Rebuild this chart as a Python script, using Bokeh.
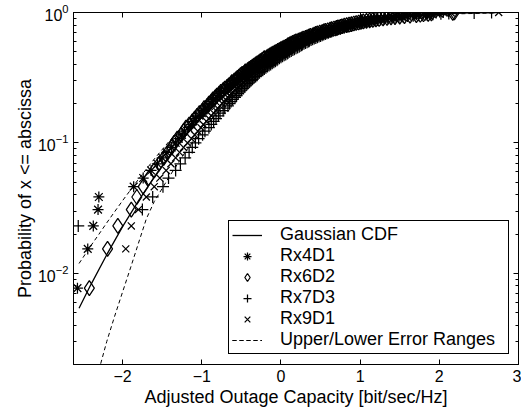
from bokeh.plotting import figure
from bokeh.models import (LogAxis, LinearAxis, Legend, LegendItem, FixedTicker,
                          Range1d, LogTicker)
from bokeh.embed import file_html
from bokeh.resources import INLINE

# ---- data ----
# empirical CDF levels (k/130) shared by the four receiver series
cdf_levels = [0.0077, 0.0154, 0.0231, 0.0308, 0.0385, 0.0462, 0.0538, 0.0615, 0.0692, 0.0769,
              0.0846, 0.0923, 0.1000, 0.1077, 0.1154, 0.1231, 0.1308, 0.1385, 0.1462, 0.1538,
              0.1615, 0.1692, 0.1769, 0.1846, 0.1923, 0.2000, 0.2077, 0.2154, 0.2231, 0.2308,
              0.2385, 0.2462, 0.2538, 0.2615, 0.2692, 0.2769, 0.2846, 0.2923, 0.3000, 0.3077,
              0.3154, 0.3231, 0.3308, 0.3385, 0.3462, 0.3538, 0.3615, 0.3692, 0.3769, 0.3846,
              0.3923, 0.4000, 0.4077, 0.4154, 0.4231, 0.4308, 0.4385, 0.4462, 0.4538, 0.4615,
              0.4692, 0.4769, 0.4846, 0.4923, 0.5000, 0.5077, 0.5154, 0.5231, 0.5308, 0.5385,
              0.5462, 0.5538, 0.5615, 0.5692, 0.5769, 0.5846, 0.5923, 0.6000, 0.6077, 0.6154,
              0.6231, 0.6308, 0.6385, 0.6462, 0.6538, 0.6615, 0.6692, 0.6769, 0.6846, 0.6923,
              0.7000, 0.7077, 0.7154, 0.7231, 0.7308, 0.7385, 0.7462, 0.7538, 0.7615, 0.7692,
              0.7769, 0.7846, 0.7923, 0.8000, 0.8077, 0.8154, 0.8231, 0.8308, 0.8385, 0.8462,
              0.8538, 0.8615, 0.8692, 0.8769, 0.8846, 0.8923, 0.9000, 0.9077, 0.9154, 0.9231,
              0.9308, 0.9385, 0.9462, 0.9538, 0.9615, 0.9692, 0.9769, 0.9846, 0.9923, 1.0000]

rx4d1_x = [-2.57, -2.44, -2.37, -2.31, -2.30, -1.86, -1.74, -1.64, -1.56, -1.50,
           -1.44, -1.38, -1.33, -1.29, -1.25, -1.22, -1.17, -1.13, -1.11, -1.08,
           -1.03, -1.00, -0.98, -0.95, -0.91, -0.88, -0.87, -0.85, -0.81, -0.78,
           -0.77, -0.75, -0.71, -0.68, -0.67, -0.65, -0.61, -0.59, -0.58, -0.56,
           -0.52, -0.50, -0.49, -0.47, -0.44, -0.42, -0.41, -0.39, -0.35, -0.33,
           -0.32, -0.31, -0.27, -0.25, -0.24, -0.22, -0.20, -0.18, -0.16, -0.15,
           -0.12, -0.10, -0.09, -0.07, -0.04, -0.02, -0.01, 0.01, 0.04, 0.06,
           0.07, 0.09, 0.11, 0.13, 0.14, 0.16, 0.19, 0.21, 0.22, 0.24,
           0.27, 0.29, 0.31, 0.33, 0.36, 0.38, 0.39, 0.41, 0.44, 0.46,
           0.48, 0.50, 0.53, 0.56, 0.58, 0.60, 0.63, 0.66, 0.68, 0.71,
           0.74, 0.77, 0.79, 0.81, 0.85, 0.88, 0.90, 0.93, 0.97, 1.00,
           1.03, 1.06, 1.10, 1.14, 1.17, 1.21, 1.26, 1.31, 1.35, 1.40,
           1.46, 1.52, 1.57, 1.64, 1.71, 1.80, 1.85, 1.90, 1.96, 2.05]

rx6d2_x = [-2.42, -2.19, -2.06, -1.89, -1.82, -1.74, -1.67, -1.60, -1.54, -1.48,
           -1.43, -1.38, -1.35, -1.31, -1.26, -1.23, -1.20, -1.16, -1.12, -1.09,
           -1.06, -1.03, -0.99, -0.97, -0.93, -0.91, -0.88, -0.86, -0.83, -0.81,
           -0.78, -0.76, -0.73, -0.71, -0.68, -0.66, -0.63, -0.62, -0.59, -0.57,
           -0.55, -0.53, -0.51, -0.49, -0.46, -0.45, -0.42, -0.40, -0.38, -0.36,
           -0.34, -0.32, -0.30, -0.28, -0.26, -0.24, -0.22, -0.21, -0.18, -0.16,
           -0.14, -0.12, -0.10, -0.08, -0.06, -0.04, -0.02, 0.00, 0.02, 0.04,
           0.06, 0.08, 0.09, 0.11, 0.13, 0.15, 0.17, 0.19, 0.22, 0.24,
           0.26, 0.28, 0.31, 0.33, 0.35, 0.37, 0.40, 0.42, 0.44, 0.46,
           0.49, 0.52, 0.54, 0.56, 0.59, 0.62, 0.64, 0.67, 0.70, 0.72,
           0.75, 0.77, 0.80, 0.83, 0.86, 0.89, 0.92, 0.95, 0.98, 1.01,
           1.04, 1.08, 1.12, 1.16, 1.20, 1.24, 1.29, 1.34, 1.39, 1.44,
           1.50, 1.56, 1.63, 1.71, 1.76, 1.80, 1.86, 1.90, 2.17, 2.19]

rx7d3_x = [-2.85, -2.70, -2.56, -1.75, -1.62, -1.49, -1.42, -1.33, -1.27, -1.21,
           -1.16, -1.12, -1.08, -1.04, -0.99, -0.96, -0.91, -0.88, -0.85, -0.82,
           -0.79, -0.77, -0.73, -0.71, -0.67, -0.65, -0.63, -0.61, -0.58, -0.56,
           -0.54, -0.52, -0.50, -0.48, -0.46, -0.44, -0.42, -0.40, -0.38, -0.36,
           -0.34, -0.32, -0.30, -0.29, -0.27, -0.25, -0.23, -0.21, -0.19, -0.17,
           -0.15, -0.13, -0.11, -0.09, -0.07, -0.05, -0.04, -0.02, 0.00, 0.02,
           0.04, 0.06, 0.08, 0.09, 0.11, 0.13, 0.15, 0.17, 0.19, 0.21,
           0.23, 0.24, 0.26, 0.27, 0.29, 0.31, 0.33, 0.35, 0.36, 0.38,
           0.40, 0.42, 0.44, 0.46, 0.48, 0.50, 0.52, 0.54, 0.56, 0.58,
           0.60, 0.62, 0.64, 0.66, 0.69, 0.71, 0.73, 0.75, 0.78, 0.80,
           0.83, 0.85, 0.88, 0.90, 0.93, 0.96, 0.99, 1.02, 1.05, 1.08,
           1.12, 1.15, 1.19, 1.22, 1.26, 1.30, 1.35, 1.39, 1.44, 1.49,
           1.54, 1.60, 1.67, 1.74, 1.83, 1.92, 2.02, 2.12, 2.44, 2.66]

rx9d1_x = [-2.80, -1.96, -1.89, -1.80, -1.70, -1.60, -1.53, -1.45, -1.39, -1.33,
           -1.28, -1.23, -1.18, -1.13, -1.09, -1.05, -1.01, -0.98, -0.94, -0.91,
           -0.88, -0.85, -0.82, -0.80, -0.77, -0.74, -0.72, -0.70, -0.67, -0.65,
           -0.63, -0.61, -0.58, -0.56, -0.54, -0.52, -0.50, -0.48, -0.45, -0.43,
           -0.41, -0.39, -0.37, -0.35, -0.33, -0.31, -0.29, -0.27, -0.25, -0.23,
           -0.21, -0.19, -0.17, -0.15, -0.13, -0.11, -0.10, -0.08, -0.06, -0.04,
           -0.02, 0.00, 0.02, 0.04, 0.06, 0.08, 0.10, 0.12, 0.13, 0.15,
           0.17, 0.19, 0.21, 0.23, 0.25, 0.27, 0.29, 0.31, 0.33, 0.35,
           0.37, 0.39, 0.41, 0.43, 0.45, 0.47, 0.49, 0.51, 0.53, 0.55,
           0.57, 0.60, 0.62, 0.64, 0.66, 0.69, 0.71, 0.74, 0.76, 0.79,
           0.81, 0.84, 0.86, 0.89, 0.92, 0.95, 0.98, 1.01, 1.04, 1.07,
           1.10, 1.14, 1.17, 1.21, 1.25, 1.29, 1.33, 1.38, 1.43, 1.48,
           1.53, 1.59, 1.66, 1.73, 1.82, 1.91, 2.00, 2.08, 2.15, 2.75]

gauss_x = [-2.55, -2.4, -2.2, -2.0, -1.8, -1.6, -1.4, -1.2, -1.0, -0.8, -0.6, -0.4, -0.2, 0.0,
           0.2, 0.4, 0.6, 0.8, 1.0, 1.2, 1.4, 1.6, 1.8, 2.0, 2.2, 2.4, 2.7]
gauss_y = [0.0054, 0.0082, 0.0139, 0.0228, 0.0359, 0.0548, 0.0808, 0.1151, 0.1587, 0.2119, 0.2743,
           0.3446, 0.4207, 0.5, 0.5793, 0.6554, 0.7257, 0.7881, 0.8413, 0.8849, 0.9192, 0.9452,
           0.9641, 0.9772, 0.9861, 0.9918, 0.9965]

upper_x = [-2.55, -2.4, -2.3, -2.2, -2.1, -2.0, -1.8, -1.6, -1.4, -1.2, -1.0, -0.6, -0.2,
           0.2, 0.6, 1.0, 1.4, 1.8, 2.2, 2.7]
upper_y = [0.0119, 0.0163, 0.0199, 0.0244, 0.0297, 0.0361, 0.0526, 0.0752, 0.1051, 0.1436, 0.1913,
           0.3142, 0.4649, 0.6234, 0.7657, 0.8740, 0.9436, 0.9807, 0.9966, 1.0]

lower_x = [-2.3, -2.2, -2.1, -2.0, -1.9, -1.8, -1.7, -1.6, -1.4, -1.2, -1.0, -0.6, -0.2,
           0.2, 0.6, 1.0, 1.4, 1.8, 2.2, 2.7]
lower_y = [0.0018, 0.0030, 0.0047, 0.0072, 0.0110, 0.0170, 0.0262, 0.0355, 0.0564, 0.0865, 0.1260,
           0.2343, 0.3766, 0.5351, 0.6858, 0.8087, 0.8949, 0.9474, 0.9756, 0.9913]

x_ticks = [-2, -1, 0, 1, 2, 3]

FONT = "Liberation Sans"

p = figure(width=521, height=410, y_axis_type="log",
           x_range=Range1d(-2.62, 3.0), y_range=Range1d(0.002, 1.0),
           output_backend="svg", toolbar_location=None,
           min_border_left=73, min_border_right=3, min_border_top=12, min_border_bottom=46)

p.xgrid.visible = False
p.ygrid.visible = False
p.outline_line_color = "black"
p.outline_line_alpha = 1.0
p.outline_line_width = 1
p.background_fill_color = "white"

# main axes
xa = p.xaxis[0]
xa.ticker = FixedTicker(ticks=x_ticks, minor_ticks=[])
xa.axis_label = "Adjusted Outage Capacity [bit/sec/Hz]"
ya = p.yaxis[0]
ya.ticker = LogTicker(num_minor_ticks=10)
ya.axis_label = "Probability of x <= abscissa"

for ax in (xa, ya):
    ax.axis_line_color = "black"
    ax.major_tick_line_color = "black"
    ax.minor_tick_line_color = "black"
    ax.major_tick_in = 5
    ax.major_tick_out = 0
    ax.minor_tick_in = 3
    ax.minor_tick_out = 0
    ax.major_label_text_font = FONT
    ax.major_label_text_font_size = "16px"
    ax.major_label_text_color = "black"
    ax.axis_label_text_font = FONT
    ax.axis_label_text_font_size = "18px"
    ax.axis_label_text_font_style = "normal"
    ax.axis_label_text_color = "black"
xa.major_label_standoff = 5
xa.axis_label_standoff = 2
ya.major_label_standoff = 5
ya.axis_label_standoff = 0

# mirrored axes (box on) : ticks only, labels not drawn
top = LinearAxis(ticker=FixedTicker(ticks=x_ticks, minor_ticks=[]))
right = LogAxis(ticker=LogTicker(num_minor_ticks=10))
for ax in (top, right):
    ax.axis_line_color = "black"
    ax.major_tick_in = 5
    ax.major_tick_out = 0
    ax.minor_tick_in = 3
    ax.minor_tick_out = 0
    ax.major_label_text_font_size = "2px"
    ax.major_label_text_color = None
    ax.major_label_standoff = 0
p.add_layout(top, "above")
p.add_layout(right, "right")

# curves and markers
g = p.line(gauss_x, gauss_y, line_color="black", line_width=1.3)
r4 = p.scatter(rx4d1_x, cdf_levels, marker="asterisk", size=11, line_color="black",
               line_width=1.25, fill_color=None)
r6 = p.scatter(rx6d2_x, cdf_levels, marker="diamond", size=15, line_color="black",
               line_width=1.25, fill_color=None)
r7 = p.scatter(rx7d3_x, cdf_levels, marker="cross", size=12, line_color="black",
               line_width=1.25, fill_color=None)
r9 = p.scatter(rx9d1_x, cdf_levels, marker="x", size=10, line_color="black",
               line_width=1.25, fill_color=None)
ub = p.line(upper_x, upper_y, line_color="black", line_width=1, line_dash="4 3")
lb = p.line(lower_x, lower_y, line_color="black", line_width=1, line_dash="4 3")

legend = Legend(items=[
    LegendItem(label="Gaussian CDF", renderers=[g]),
    LegendItem(label="Rx4D1", renderers=[r4]),
    LegendItem(label="Rx6D2", renderers=[r6]),
    LegendItem(label="Rx7D3", renderers=[r7]),
    LegendItem(label="Rx9D1", renderers=[r9]),
    LegendItem(label="Upper/Lower Error Ranges", renderers=[ub, lb]),
], location=(155, 10))
legend.margin = 0
legend.padding = 3
legend.spacing = 0
legend.glyph_width = 30
legend.glyph_height = 20
legend.label_height = 20
legend.label_standoff = 18
legend.label_width = 225
legend.label_text_font = FONT
legend.label_text_font_size = "18px"
legend.label_text_color = "black"
legend.border_line_color = "black"
legend.border_line_width = 1
legend.border_line_alpha = 1
legend.background_fill_color = "white"
legend.background_fill_alpha = 1
p.add_layout(legend)

open("out.html", "w").write(file_html(p, INLINE))
